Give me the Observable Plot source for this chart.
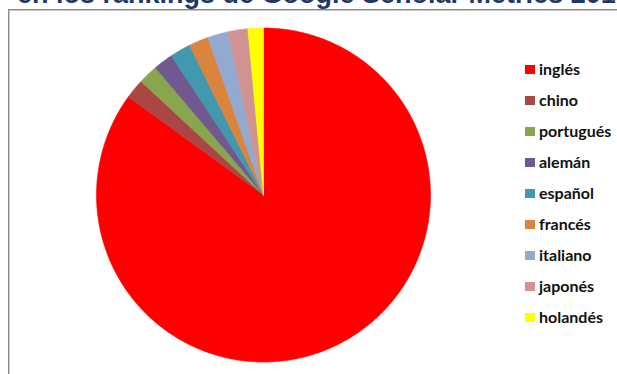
<!DOCTYPE html>
<html>
<head>
<meta charset="utf-8">
<script src="https://cdn.jsdelivr.net/npm/d3@7"></script>
<script src="https://cdn.jsdelivr.net/npm/@observablehq/plot@0.6"></script>
<style>
  html, body { margin: 0; padding: 0; background: #fff; }
  #wrap { position: relative; width: 617px; height: 374px; overflow: hidden; background: #fff; }
  #title { position: absolute; left: 17px; top: -18.9px; white-space: nowrap;
    font: bold 27px "Liberation Sans", Arial, sans-serif; line-height: 27px; color: #1F3864; }
  #frame { position: absolute; left: 8px; top: 9px; width: 800px; height: 600px;
    border: 1px solid #8a8a8a; box-shadow: 1px 1px 0 #c8c8c8 inset; }
  #chart { position: absolute; left: 0; top: 0; }
  #legend { position: absolute; left: 0; top: 0; font: bold 16px Lato, "Open Sans", sans-serif; color: #111; }
  .sw { position: absolute; left: 525px; width: 10px; height: 9px; }
  .tx { position: absolute; left: 539px; white-space: nowrap; line-height: 16px; }
</style>
</head>
<body>
<div id="wrap">
  <div id="title"></div>
  <div id="frame"></div>
  <div id="chart"></div>
  <div id="legend"></div>
</div>
<script>
const titleText = "en los rankings de Google Scholar Metrics 2014";
const languages = ["inglés", "chino", "portugués", "alemán", "español", "francés", "italiano", "japonés", "holandés"];
const shares = [85.0, 1.9, 1.9, 1.9, 2.0, 1.9, 2.0, 1.9, 1.5];
const colors = ["#FF0000", "#AA4643", "#89A54E", "#71588F", "#4198AF", "#DB843D", "#93A9CF", "#D19392", "#FFFF00"];

document.getElementById("title").textContent = titleText;

const W = 617, H = 374;
const cx = 263, cy = 194.5, R = 167;

const arcs = d3.pie().sort(null).value(i => shares[i])(d3.range(languages.length));
const pts = [];
for (const a of arcs) {
  const lang = languages[a.data];
  const n = Math.max(4, Math.ceil((a.endAngle - a.startAngle) / (Math.PI / 360)));
  pts.push({lang, x: 0, y: 0});
  for (let k = 0; k <= n; k++) {
    const t = a.startAngle + (a.endAngle - a.startAngle) * k / n;
    pts.push({lang, x: Math.sin(t), y: Math.cos(t)});
  }
  pts.push({lang, x: 0, y: 0});
}

const chart = Plot.plot({
  width: W, height: H,
  margin: 0,
  x: {domain: [-cx / R, (W - cx) / R], axis: null},
  y: {domain: [-(H - cy) / R, cy / R], axis: null},
  color: {domain: languages, range: colors},
  marks: [
    Plot.line(pts, {x: "x", y: "y", z: "lang", fill: "lang", stroke: "lang", strokeWidth: 0.6, curve: "linear"})
  ]
});
chart.style.background = "transparent";
document.getElementById("chart").appendChild(chart);

const legend = document.getElementById("legend");
languages.forEach((l, i) => {
  const dy = i * 31.06;
  const sw = document.createElement("div");
  sw.className = "sw";
  sw.style.top = (65 + dy) + "px";
  sw.style.background = colors[i];
  const tx = document.createElement("div");
  tx.className = "tx";
  tx.style.top = (60.8 + dy) + "px";
  tx.textContent = l;
  legend.appendChild(sw);
  legend.appendChild(tx);
});
</script>
</body>
</html>
